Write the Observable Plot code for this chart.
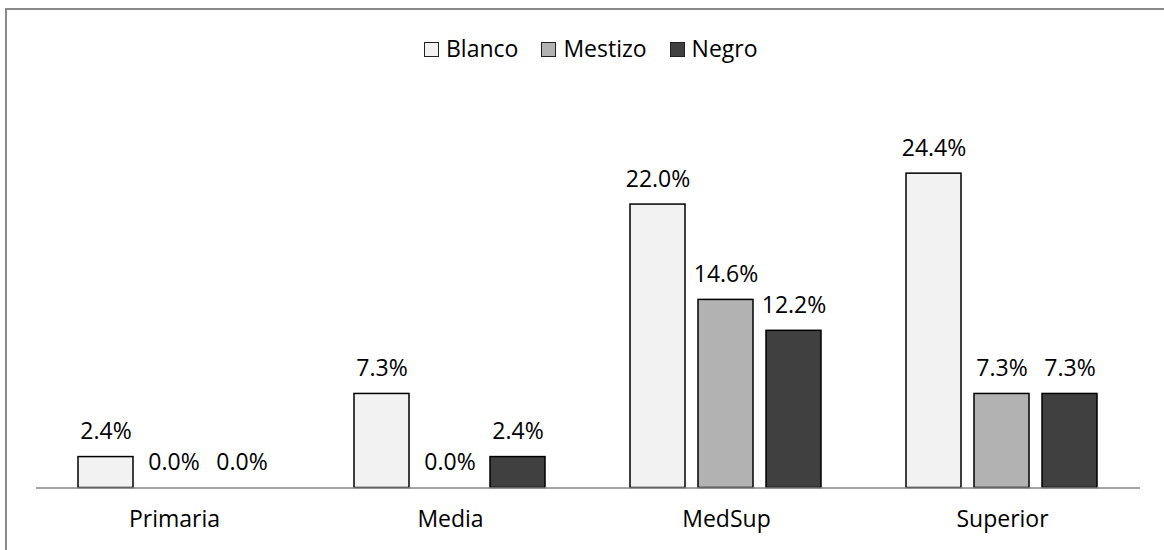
<!DOCTYPE html>
<html><head><meta charset="utf-8">
<script src="https://cdn.jsdelivr.net/npm/d3@7"></script>
<script src="https://cdn.jsdelivr.net/npm/@observablehq/plot@0.6"></script>
<style>
html,body{margin:0;padding:0;background:#fff;overflow:hidden;width:1164px;height:550px}
#frame{position:absolute;left:5px;top:8px;width:1300px;height:700px;border-left:2px solid #8a8a8a;border-top:2px solid #8a8a8a;box-sizing:border-box}
#chart{position:absolute;left:0;top:0}
#legend{position:absolute;top:34px;left:424px;display:flex;align-items:center;font-family:"Open Sans",Lato,sans-serif;font-size:23px;color:#000;line-height:28px}
#legend .item{display:flex;align-items:center;margin-right:23px}
#legend .sw{width:15px;height:15px;border:1.5px solid #222;margin-right:7px;margin-top:3px;box-sizing:border-box}
</style>
</head><body>
<div id="frame"></div>
<div id="chart"></div>
<div id="legend"></div>
<script>
const niveles = ["Primaria", "Media", "MedSup", "Superior"];
const grupos = ["Blanco", "Mestizo", "Negro"];
const blanco = [2.4, 7.3, 22.0, 24.4];
const mestizo = [0.0, 0.0, 14.6, 7.3];
const negro = [0.0, 2.4, 12.2, 7.3];
const colores = ["#f2f2f2", "#b2b2b2", "#404040"];

const series = [blanco, mestizo, negro];
const rows = [];
niveles.forEach((n, i) => grupos.forEach((g, j) => rows.push({nivel: n, grupo: g, valor: series[j][i]})));

const chart = Plot.plot({
  width: 1164, height: 550,
  marginLeft: 35, marginRight: 23, marginTop: 101, marginBottom: 62.5,
  style: {fontFamily: "'Open Sans', Lato, sans-serif", background: "transparent"},
  fx: {domain: niveles, padding: 0, label: null, axis: null},
  x: {domain: grupos, paddingInner: 0.188, paddingOuter: 0.6, axis: null},
  y: {domain: [0, 30], axis: null},
  color: {domain: grupos, range: colores},
  marks: [
    Plot.barY(rows.filter(d => d.valor > 0), {fx: "nivel", x: "grupo", y: "valor", fill: "grupo", stroke: "#000", strokeWidth: 1.5}),
    Plot.text(rows, {fx: "nivel", x: "grupo", y: "valor", text: d => d.valor.toFixed(1) + "%", lineAnchor: "bottom", dy: -18, fontSize: 23, fill: "#000"}),
    Plot.ruleY([0], {stroke: "#868686", strokeWidth: 1.5}),
    Plot.axisFx({anchor: "bottom", tickSize: 0, tickPadding: 23, fontSize: 23, label: null, fill: "#000"})
  ]
});
document.getElementById("chart").appendChild(chart);

const legend = document.getElementById("legend");
grupos.forEach((g, j) => {
  const it = document.createElement("div");
  it.className = "item";
  const sw = document.createElement("span");
  sw.className = "sw";
  sw.style.background = colores[j];
  const tx = document.createElement("span");
  tx.textContent = g;
  it.appendChild(sw); it.appendChild(tx);
  legend.appendChild(it);
});
</script>
</body></html>
